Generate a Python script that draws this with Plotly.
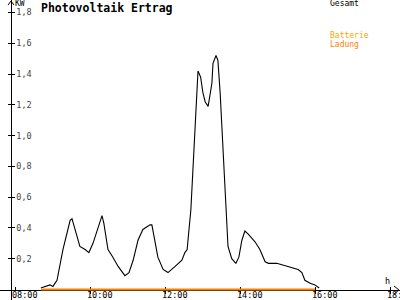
import plotly.graph_objects as go

# Data
hours = [8.69, 8.93, 9.01, 9.12, 9.28, 9.47, 9.52, 9.60, 9.73, 9.87, 9.97, 10.08, 10.27, 10.32,
         10.37, 10.48, 10.61, 10.75, 10.93, 11.04, 11.15, 11.28, 11.41, 11.60, 11.65, 11.73,
         11.81, 11.95, 12.08, 12.27, 12.45, 12.53, 12.59, 12.69, 12.75, 12.80, 12.88, 12.95,
         13.01, 13.07, 13.15, 13.25, 13.28, 13.36, 13.41, 13.47, 13.52, 13.57, 13.65, 13.68,
         13.78, 13.89, 13.97, 14.05, 14.13, 14.22, 14.40, 14.53, 14.67, 14.76, 14.98, 15.25,
         15.55, 15.65, 15.73, 15.87, 16.00, 16.11]
gesamt = [0.01, 0.03, 0.02, 0.06, 0.26, 0.45, 0.46, 0.39, 0.28, 0.26, 0.24, 0.30, 0.45, 0.48,
          0.43, 0.26, 0.21, 0.15, 0.09, 0.11, 0.19, 0.32, 0.39, 0.42, 0.42, 0.32,
          0.21, 0.13, 0.11, 0.15, 0.19, 0.24, 0.26, 0.52, 0.78, 1.08, 1.42, 1.38,
          1.28, 1.22, 1.19, 1.34, 1.47, 1.52, 1.49, 1.28, 1.04, 0.78, 0.47, 0.28,
          0.20, 0.17, 0.21, 0.32, 0.38, 0.36, 0.31, 0.26, 0.18, 0.17, 0.17, 0.15,
          0.13, 0.11, 0.06, 0.04, 0.03, 0.01]
batt_hours = [8.69, 16.00]
batt_ladung = [0.0, 0.0]

x_ticks = [8, 10, 12, 14, 16, 18]
x_labels = ["08:00", "10:00", "12:00", "14:00", "16:00", "18:00"]
y_ticks = [0.2, 0.4, 0.6, 0.8, 1.0, 1.2, 1.4, 1.6, 1.8]

W, H = 400, 300
X_RANGE = [7.6, 7.6 + 400 / 37.5]
Y_RANGE = [-10.5 / 153.9, 289.5 / 153.9]
FONT = "DejaVu Sans Mono"
ORANGE = "#FF8000"
GOLD = "#FFA500"

fig = go.Figure()
fig.add_trace(go.Scatter(x=hours, y=gesamt, mode="lines", line=dict(color="black", width=1.1),
                         hoverinfo="skip", showlegend=False))
fig.add_trace(go.Scatter(x=batt_hours, y=batt_ladung, mode="lines", line=dict(color=ORANGE, width=2),
                         hoverinfo="skip", showlegend=False))
fig.add_trace(go.Scatter(x=[None], y=[None], xaxis="x2", yaxis="y2", showlegend=False))

axis_common = dict(showgrid=False, zeroline=False, ticklen=3, tickcolor="black", tickwidth=1,
                   automargin=False, layer="below traces")

fig.update_layout(
    width=W, height=H, margin=dict(l=0, r=0, t=0, b=0, pad=0),
    paper_bgcolor="white", plot_bgcolor="white",
    separators=",.",
    font=dict(family=FONT, size=8, color="black"),
    xaxis=dict(range=X_RANGE, domain=[0, 1], anchor="free", position=10 / 300,
               tickvals=x_ticks, showticklabels=False, ticks="outside", showline=True,
               linecolor="black", linewidth=1, **axis_common),
    xaxis2=dict(range=X_RANGE, overlaying="x", anchor="free", position=10 / 300, side="top",
                tickvals=x_ticks, showticklabels=False, ticks="outside", showline=False, **axis_common),
    yaxis=dict(range=Y_RANGE, domain=[0, 1], anchor="free", position=11 / 400,
               tickvals=y_ticks, tickformat=".1f", ticks="inside", ticklabelposition="inside",
               showline=True, linecolor="black", linewidth=1, tickfont=dict(family=FONT, size=8.5), **axis_common),
    yaxis2=dict(range=Y_RANGE, overlaying="y", anchor="free", position=11 / 400, side="left",
                tickvals=y_ticks, showticklabels=False, ticks="outside", showline=False, **axis_common),
    showlegend=False,
)

# x tick labels (left-aligned just before each tick, as in the reference)
for tv, tl in zip(x_ticks, x_labels):
    fig.add_annotation(x=tv, y=1 - 295 / H, xref="x", yref="paper", text=tl, showarrow=False,
                       xanchor="left", yanchor="middle", xshift=-5,
                       font=dict(family=FONT, size=8.5, color="black"))

def px(x, y):
    return x / W, 1 - y / H

anns = [
    (40, 8, "<b>Photovoltaik Ertrag</b>", "black", 11.5),
    (14, 4, "KW", "black", 8),
    (329, 4, "Gesamt", "black", 8),
    (329, 35, "Batterie", GOLD, 8),
    (329, 44.5, "Ladung", ORANGE, 8),
    (384, 281, "h", "black", 8.5),
]
for x, y, t, c, s in anns:
    ax, ay = px(x, y)
    fig.add_annotation(x=ax, y=ay, xref="paper", yref="paper", text=t, showarrow=False,
                       xanchor="left", yanchor="middle", borderpad=0,
                       font=dict(family=FONT, size=s, color=c))

# axis arrow heads
fig.add_shape(type="path", xref="paper", yref="paper",
              path=f"M {8/W} {1-5/H} L {11/W} {1-1/H} L {14/W} {1-5/H}",
              line=dict(color="black", width=1))
fig.add_shape(type="path", xref="paper", yref="paper",
              path=f"M {394/W} {1-286/H} L {399/W} {1-290/H} L {394/W} {1-294/H}",
              line=dict(color="black", width=1))

fig.write_html("out.html")
